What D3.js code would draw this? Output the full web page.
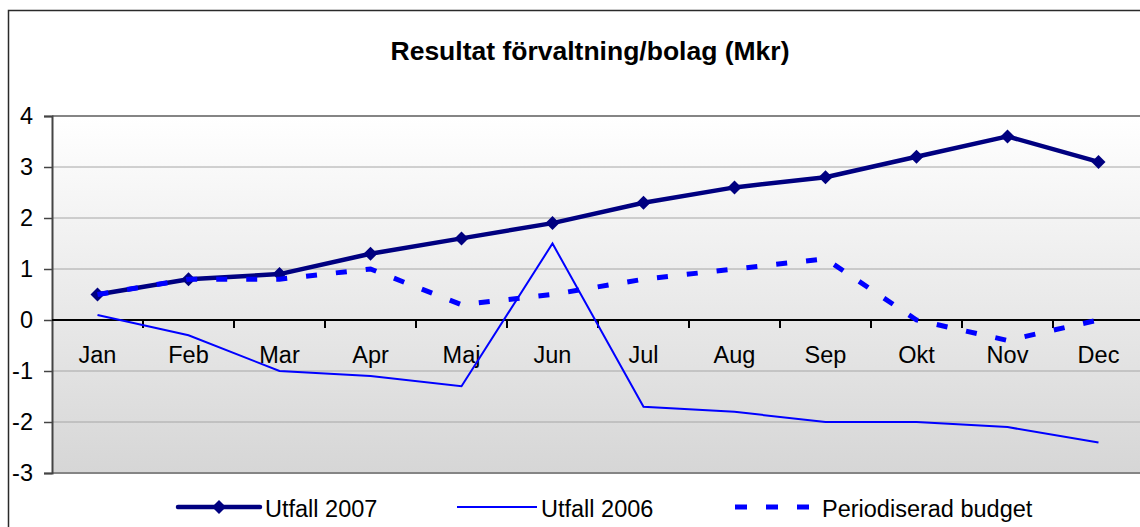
<!DOCTYPE html>
<html>
<head>
<meta charset="utf-8">
<script src="https://cdn.jsdelivr.net/npm/d3@7/dist/d3.min.js"></script>
<style>
  body { margin: 0; background: #fff; }
  svg { display: block; font-family: "Liberation Sans", Arial, sans-serif; }
</style>
</head>
<body>
<svg id="chart" width="1140" height="527"></svg>
<script>
const months = ["Jan", "Feb", "Mar", "Apr", "Maj", "Jun", "Jul", "Aug", "Sep", "Okt", "Nov", "Dec"];
const utfall2007 = [0.5, 0.8, 0.9, 1.3, 1.6, 1.9, 2.3, 2.6, 2.8, 3.2, 3.6, 3.1];
const utfall2006 = [0.1, -0.3, -1.0, -1.1, -1.3, 1.5, -1.7, -1.8, -2.0, -2.0, -2.1, -2.4];
const budget = [0.5, 0.8, 0.8, 1.0, 0.3, 0.5, 0.8, 1.0, 1.2, 0.0, -0.4, 0.0];
const yTicks = [-3, -2, -1, 0, 1, 2, 3, 4];
const seriesNames = ["Utfall 2007", "Utfall 2006", "Periodiserad budget"];

const svg = d3.select("#chart");
const plotL = 52, plotR = 1144, plotT = 116, plotB = 473;

const x = d3.scaleBand().domain(months).range([plotL, plotR]).padding(0);
const y = d3.scaleLinear().domain([-3, 4]).range([plotB, plotT]);
const cx = d => x(d) + x.bandwidth() / 2;

// outer frame
svg.append("path")
    .attr("d", "M8.5,527 V10.5 H1140")
    .attr("fill", "none")
    .attr("stroke", "#2a2a2a")
    .attr("stroke-width", 1.5);

// title
svg.append("text")
    .attr("x", 590).attr("y", 60)
    .attr("text-anchor", "middle")
    .attr("font-size", 26.5)
    .attr("font-weight", "bold")
    .text("Resultat förvaltning/bolag (Mkr)");

// plot background gradient
const defs = svg.append("defs");
const grad = defs.append("linearGradient")
    .attr("id", "bg").attr("x1", 0).attr("y1", 0).attr("x2", 0).attr("y2", 1);
grad.append("stop").attr("offset", "0%").attr("stop-color", "#ffffff");
grad.append("stop").attr("offset", "100%").attr("stop-color", "#d6d6d6");

svg.append("rect")
    .attr("x", plotL).attr("y", plotT)
    .attr("width", plotR - plotL).attr("height", plotB - plotT)
    .attr("fill", "url(#bg)");

// gridlines
svg.append("g")
    .selectAll("line")
    .data(yTicks.filter(t => t !== 0 && t !== 4 && t !== -3))
    .enter().append("line")
    .attr("x1", plotL).attr("x2", plotR)
    .attr("y1", d => y(d)).attr("y2", d => y(d))
    .attr("stroke", "#a6a6a6")
    .attr("stroke-width", 1);

// plot border top/bottom
svg.append("line")
    .attr("x1", plotL).attr("x2", plotR)
    .attr("y1", y(4)).attr("y2", y(4))
    .attr("stroke", "#858585").attr("stroke-width", 2);
svg.append("line")
    .attr("x1", plotL).attr("x2", plotR)
    .attr("y1", y(-3)).attr("y2", y(-3))
    .attr("stroke", "#858585").attr("stroke-width", 2);

// y axis
const yAxis = svg.append("g")
    .attr("transform", "translate(" + plotL + ",0)")
    .call(d3.axisLeft(y).tickValues(yTicks).tickSize(8).tickPadding(11).tickFormat(d3.format("")));
yAxis.select(".domain").attr("stroke", "#444").attr("stroke-width", 2);
yAxis.selectAll(".tick line").attr("stroke", "#444").attr("stroke-width", 1.5);
yAxis.selectAll(".tick text")
    .attr("font-size", 23.5)
    .attr("fill", "#000")
    .attr("font-family", "Liberation Sans, Arial, sans-serif")
    .text(d => d < 0 ? "-" + Math.abs(d) : d);

// x axis on zero line
svg.append("line")
    .attr("x1", plotL).attr("x2", plotR)
    .attr("y1", y(0)).attr("y2", y(0))
    .attr("stroke", "#000").attr("stroke-width", 2);
svg.append("g")
    .selectAll("line")
    .data(months.slice(1))
    .enter().append("line")
    .attr("x1", d => x(d)).attr("x2", d => x(d))
    .attr("y1", y(0)).attr("y2", y(0) + 8)
    .attr("stroke", "#000").attr("stroke-width", 2);
svg.append("g")
    .selectAll("text")
    .data(months)
    .enter().append("text")
    .attr("x", d => cx(d))
    .attr("y", y(0) + 43)
    .attr("text-anchor", "middle")
    .attr("font-size", 23.5)
    .text(d => d);

const line = d3.line()
    .x((d, i) => cx(months[i]))
    .y(d => y(d));

// Utfall 2007
svg.append("path")
    .datum(utfall2007)
    .attr("d", line)
    .attr("fill", "none")
    .attr("stroke", "#000080")
    .attr("stroke-width", 4.5)
    .attr("stroke-linejoin", "round");

const diamond = d3.symbol().type(d3.symbolDiamond2).size(125);
svg.append("g")
    .selectAll("path")
    .data(utfall2007)
    .enter().append("path")
    .attr("d", diamond)
    .attr("transform", (d, i) => "translate(" + cx(months[i]) + "," + y(d) + ")")
    .attr("fill", "#000080");

// Utfall 2006
svg.append("path")
    .datum(utfall2006)
    .attr("d", line)
    .attr("fill", "none")
    .attr("stroke", "#0000ff")
    .attr("stroke-width", 2);

// Periodiserad budget
svg.append("path")
    .datum(budget)
    .attr("d", line)
    .attr("fill", "none")
    .attr("stroke", "#0000ff")
    .attr("stroke-width", 5)
    .attr("stroke-dasharray", "11,19");

// legend
const legY = 507;
const leg = svg.append("g");
leg.append("line")
    .attr("x1", 178).attr("x2", 260).attr("y1", legY).attr("y2", legY)
    .attr("stroke", "#000080").attr("stroke-width", 4.5).attr("stroke-linecap", "round");
leg.append("path")
    .attr("d", diamond)
    .attr("transform", "translate(219," + legY + ")")
    .attr("fill", "#000080");
leg.append("line")
    .attr("x1", 457).attr("x2", 537).attr("y1", legY).attr("y2", legY)
    .attr("stroke", "#0000ff").attr("stroke-width", 2);
leg.append("line")
    .attr("x1", 735).attr("x2", 810).attr("y1", legY).attr("y2", legY)
    .attr("stroke", "#0000ff").attr("stroke-width", 5).attr("stroke-dasharray", "12,19");

const legX = [265, 541, 822];
leg.selectAll("text")
    .data(seriesNames)
    .enter().append("text")
    .attr("x", (d, i) => legX[i])
    .attr("y", legY + 10)
    .attr("font-size", 23.5)
    .text(d => d);
</script>
</body>
</html>
